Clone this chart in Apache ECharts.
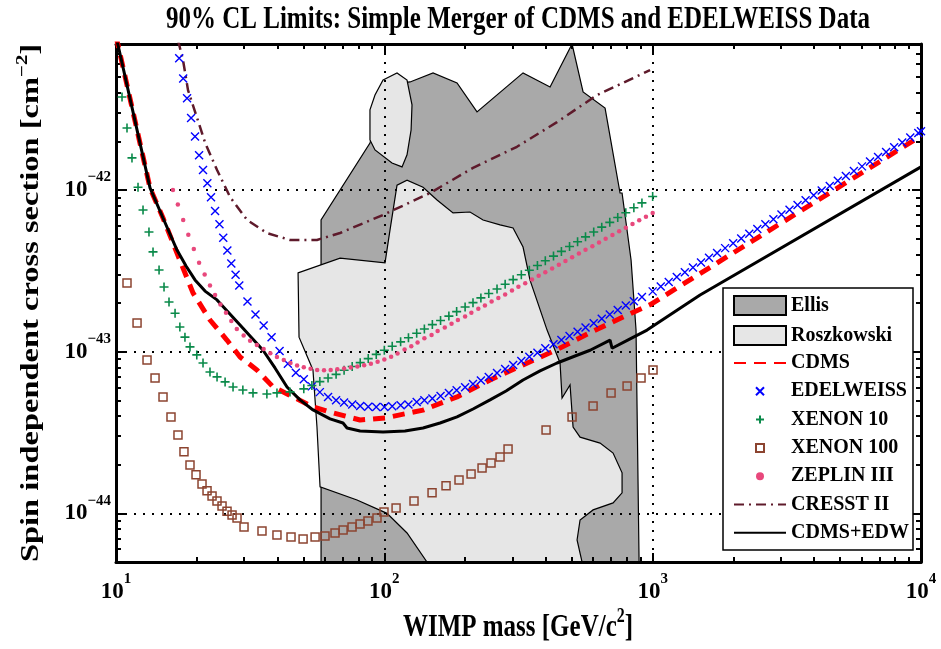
<!DOCTYPE html>
<html><head><meta charset="utf-8">
<script src="https://cdn.jsdelivr.net/npm/echarts@6/dist/echarts.min.js"></script>
<style>html,body{margin:0;padding:0;background:#fff;overflow:hidden}#c{width:941px;height:649px}</style>
</head><body><div id="c"></div><script>
// ---------- tick values ----------
const massTicks = [10, 100, 1000, 10000];
const massMinorTicks = [20,30,40,50,60,70,80,90,200,300,400,500,600,700,800,900,2000,3000,4000,5000,6000,7000,8000,9000];
const sigmaTicks = [1e-44, 1e-43, 1e-42];
const sigmaMinorTicks = [6e-45,7e-45,8e-45,9e-45,2e-44,3e-44,4e-44,5e-44,6e-44,7e-44,8e-44,9e-44,2e-43,3e-43,4e-43,5e-43,6e-43,7e-43,8e-43,9e-43,2e-42,3e-42,4e-42,5e-42,6e-42,7e-42];
const massRange = [10, 10000];
const sigmaRange = [5e-45, 8e-42];

// ---------- texts ----------
const titleText = '90% CL Limits: Simple Merger of CDMS and EDELWEISS Data';
const xNameText = ['WIMP mass [GeV/c', '2', ']'];
const yNameText = ['Spin independent cross section [cm', '\u22122', ']'];

// ---------- regions (mass GeV, sigma cm^2) ----------
const ellis = [[58.1,5e-45],[58.1,6.52e-43],[88.4,1.95e-42],[100.6,4.46e-42],[124.7,4.66e-42],[151.9,5.30e-42],[186.6,4.59e-42],[221.5,3.04e-42],[328.8,5.30e-42],[414.6,4.34e-42],[500.7,8e-42],[550.4,4.04e-42],[664.7,3.21e-42],[755.9,9.58e-43],[769.1,9.58e-43],[830.8,3.69e-43],[867,1.36e-43],[890,5e-45]];
const roszkowski = [[47.7,3.07e-43],[68.4,3.79e-43],[100.6,3.54e-43],[105.0,5.66e-43],[111.5,1.07e-42],[121.5,1.15e-42],[139.4,1.04e-42],[157.2,8.67e-43],[180.3,7.21e-43],[208.6,7.31e-43],[233.3,6.52e-43],[269.9,6.08e-43],[301.8,5.82e-43],[328.8,4.44e-43],[349.1,2.77e-43],[404.1,1.36e-43],[451.7,8.51e-44],[459.5,5.17e-44],[492.2,6.22e-44],[505.1,3.42e-44],[536.3,2.96e-44],[636.8,2.72e-44],[712.0,2.36e-44],[769.1,1.78e-44],[769.1,1.34e-44],[712.0,1.16e-44],[599.7,1.05e-44],[536.3,9.09e-45],[522.7,6.85e-45],[545.6,5e-45],[144.2,5e-45],[121.5,7.56e-45],[102.3,1.0e-44],[79.1,1.21e-44],[57.6,1.46e-44],[56.1,3.42e-44],[54.2,7.71e-44],[48.1,1.23e-43]];
const roszkowskiIsland = [[98.9,4.79e-42],[111.5,5.30e-42],[121.5,4.79e-42],[126.8,3.36e-42],[125.8,2.35e-42],[121.5,1.65e-42],[116.4,1.39e-42],[106.8,1.47e-42],[92.3,1.77e-42],[88.4,2.04e-42],[88.4,3.13e-42],[92.3,3.87e-42]];

// ---------- limit curves ----------
const cdms = [[10,8.96e-42],[13.39,1.03e-42],[14.97,6.71e-43],[16.88,4.07e-43],[19.36,2.31e-43],[22.4,1.57e-43],[25.9,1.18e-43],[29.0,9.27e-44],[33.5,7.71e-44],[38.5,6.05e-44],[45.7,5.25e-44],[54.2,4.55e-44],[64.4,4.18e-44],[81.2,3.78e-44],[100.6,3.89e-44],[139.4,4.35e-44],[186.6,5.25e-44],[247.7,6.68e-44],[328.8,8.28e-44],[440,1.03e-43],[584,1.31e-43],[775.6,1.64e-43],[977,1.95e-43],[10000,2.16e-42]];
const edelweiss = [[16.6,8.71e-42],[17.2,6.53e-42],[17.8,4.90e-42],[18.4,3.70e-42],[19.05,2.79e-42],[19.7,2.14e-42],[20.4,1.64e-42],[21.1,1.33e-42],[21.9,1.10e-42],[22.6,9.02e-43],[23.4,7.41e-43],[24.3,6.14e-43],[25.1,5.07e-43],[26.0,4.22e-43],[26.9,3.51e-43],[27.9,2.99e-43],[28.8,2.57e-43],[30.9,2.04e-43],[33.1,1.70e-43],[35.5,1.45e-43],[38.0,1.23e-43],[40.7,1.01e-43],[43.7,8.41e-44],[46.8,7.41e-44],[50.1,6.76e-44],[53.7,6.10e-44],[57.5,5.62e-44],[61.7,5.25e-44],[66.1,5.01e-44],[70.8,4.84e-44],[75.9,4.71e-44],[81.3,4.62e-44],[87.1,4.57e-44],[93.3,4.55e-44],[100,4.54e-44],[107,4.59e-44],[115,4.66e-44],[123,4.71e-44],[132,4.88e-44],[141,5.01e-44],[151,5.14e-44],[162,5.32e-44],[174,5.55e-44],[186,5.78e-44],[200,6.03e-44],[214,6.32e-44],[229,6.64e-44],[245,6.97e-44],[263,7.38e-44],[282,7.82e-44],[302,8.28e-44],[324,8.77e-44],[347,9.31e-44],[372,9.86e-44],[398,1.05e-43],[427,1.11e-43],[457,1.18e-43],[490,1.25e-43],[525,1.33e-43],[562,1.41e-43],[603,1.50e-43],[646,1.60e-43],[692,1.70e-43],[741,1.81e-43],[794,1.93e-43],[851,2.05e-43],[912,2.18e-43],[1000,2.36e-43],[1072,2.53e-43],[1148,2.70e-43],[1230,2.90e-43],[1318,3.10e-43],[1413,3.32e-43],[1514,3.56e-43],[1622,3.81e-43],[1738,4.08e-43],[1862,4.37e-43],[1995,4.68e-43],[2138,5.01e-43],[2291,5.36e-43],[2455,5.74e-43],[2630,6.15e-43],[2818,6.59e-43],[3020,7.05e-43],[3236,7.55e-43],[3467,8.09e-43],[3715,8.65e-43],[3981,9.27e-43],[4266,9.93e-43],[4571,1.06e-42],[4898,1.14e-42],[5248,1.22e-42],[5623,1.31e-42],[6026,1.40e-42],[6457,1.50e-42],[6918,1.60e-42],[7413,1.72e-42],[7943,1.84e-42],[8511,1.97e-42],[9120,2.11e-42],[9772,2.25e-42],[10000,2.31e-42]];
const xenon10 = [[9.74,6.19e-42],[10.53,3.76e-42],[10.99,2.42e-42],[11.47,1.58e-42],[12.08,1.04e-42],[12.61,7.52e-43],[13.27,5.50e-43],[13.74,4.14e-43],[14.47,3.20e-43],[15.1,2.51e-43],[15.76,2.03e-43],[16.6,1.73e-43],[17.3,1.42e-43],[18.07,1.23e-43],[18.87,1.07e-43],[20.0,9.55e-44],[21.1,8.51e-44],[22.4,7.48e-44],[23.8,6.98e-44],[25.5,6.50e-44],[27.3,6.05e-44],[29.7,5.79e-44],[32.4,5.56e-44],[36.5,5.47e-44],[39.8,5.56e-44],[44.5,5.64e-44],[50.1,5.89e-44],[53.7,6.17e-44],[57.5,6.53e-44],[61.7,6.87e-44],[66.1,7.24e-44],[70.8,7.67e-44],[75.9,8.09e-44],[81.3,8.55e-44],[87.1,9.06e-44],[93.3,9.62e-44],[100,1.02e-43],[107,1.08e-43],[115,1.15e-43],[123,1.22e-43],[132,1.30e-43],[141,1.38e-43],[151,1.47e-43],[162,1.56e-43],[174,1.66e-43],[186,1.77e-43],[200,1.89e-43],[214,2.01e-43],[229,2.15e-43],[245,2.29e-43],[263,2.44e-43],[282,2.61e-43],[302,2.79e-43],[324,2.99e-43],[347,3.19e-43],[372,3.41e-43],[398,3.65e-43],[427,3.90e-43],[457,4.17e-43],[490,4.47e-43],[525,4.79e-43],[562,5.13e-43],[603,5.50e-43],[646,5.89e-43],[692,6.31e-43],[741,6.76e-43],[794,7.24e-43],[851,7.76e-43],[912,8.32e-43],[1000,9.12e-43]];
const xenon100 = [[10.99,2.66e-43],[11.98,1.505e-43],[13.05,8.89e-44],[13.98,6.88e-44],[14.97,5.25e-44],[16.03,3.95e-44],[17.02,3.05e-44],[17.92,2.40e-44],[18.87,1.99e-44],[19.87,1.73e-44],[20.92,1.52e-44],[21.84,1.38e-44],[22.8,1.28e-44],[23.79,1.19e-44],[24.84,1.11e-44],[25.93,1.03e-44],[27.07,9.77e-45],[28.25,9.37e-45],[30.0,8.24e-45],[35.0,7.78e-45],[39.8,7.35e-45],[44.9,7.15e-45],[49.8,6.95e-45],[55.2,7.15e-45],[60.1,7.25e-45],[65.5,7.56e-45],[70.2,7.89e-45],[75.8,8.24e-45],[81.2,8.60e-45],[86.9,8.97e-45],[93.9,9.37e-45],[99.7,1.02e-44],[110.6,1.08e-44],[129.0,1.19e-44],[150.6,1.34e-44],[169.8,1.48e-44],[189.8,1.61e-44],[210.5,1.75e-44],[231.3,1.91e-44],[249.8,2.05e-44],[269.9,2.23e-44],[289.1,2.50e-44],[400.6,3.28e-44],[500.7,3.95e-44],[599.7,4.62e-44],[699.8,5.55e-44],[802.9,6.14e-44],[905.0,6.88e-44],[1003,7.70e-44]];
const zeplin3 = [[16.3,1.0e-42],[17.0,8.13e-43],[17.8,6.52e-43],[18.6,5.28e-43],[19.5,4.32e-43],[20.4,3.55e-43],[21.4,3.0e-43],[22.4,2.57e-43],[23.4,2.24e-43],[24.5,1.96e-43],[25.7,1.74e-43],[26.9,1.55e-43],[28.2,1.38e-43],[29.9,1.26e-43],[31.6,1.17e-43],[33.5,1.10e-43],[35.5,1.04e-43],[37.6,9.77e-44],[39.8,9.27e-44],[42.2,8.87e-44],[44.7,8.51e-44],[47.3,8.22e-44],[50.1,8.0e-44],[53.1,7.83e-44],[56.2,7.71e-44],[59.6,7.67e-44],[63.1,7.71e-44],[66.8,7.78e-44],[70.8,7.87e-44],[75.0,7.98e-44],[79.4,8.09e-44],[84.1,8.24e-44],[89.1,8.41e-44],[94.4,8.67e-44],[100,8.95e-44],[106,9.29e-44],[112,9.75e-44],[119,1.03e-43],[126,1.08e-43],[133,1.14e-43],[141,1.21e-43],[150,1.27e-43],[158,1.34e-43],[168,1.41e-43],[178,1.49e-43],[188,1.57e-43],[200,1.65e-43],[211,1.74e-43],[224,1.84e-43],[237,1.93e-43],[251,2.04e-43],[266,2.15e-43],[282,2.26e-43],[299,2.39e-43],[316,2.52e-43],[335,2.65e-43],[355,2.80e-43],[376,2.95e-43],[398,3.10e-43],[422,3.27e-43],[447,3.45e-43],[473,3.64e-43],[501,3.84e-43],[531,4.05e-43],[562,4.27e-43],[596,4.49e-43],[631,4.73e-43],[668,4.99e-43],[708,5.26e-43],[750,5.55e-43],[794,5.85e-43],[841,6.17e-43],[891,6.49e-43],[944,6.84e-43],[1000,7.21e-43]];
const cresst2 = [[17.02,8.46e-42],[17.77,6.37e-42],[18.55,4.15e-42],[20.0,2.83e-42],[21.5,1.95e-42],[23.8,1.33e-42],[26.6,9.06e-43],[30.8,6.52e-43],[36.5,5.42e-43],[44.5,4.91e-43],[56.1,4.91e-43],[68.4,5.42e-43],[98.9,7.01e-43],[148,9.58e-43],[214,1.37e-42],[312,1.85e-42],[440,2.63e-42],[621,3.87e-42],[978,5.52e-42]];
const cdmsEdw = [[10,8.96e-42],[13.39,1.03e-42],[14.97,6.71e-43],[16.88,4.25e-43],[18.24,3.39e-43],[19.70,2.78e-43],[21.47,2.37e-43],[23.79,2.09e-43],[28.99,1.46e-43],[35.31,1.02e-43],[39.13,7.93e-44],[43.38,6.05e-44],[48.51,5.03e-44],[54.24,4.36e-44],[62.77,3.84e-44],[70.15,3.62e-44],[72.6,3.37e-44],[81.2,3.23e-44],[98.9,3.19e-44],[119.4,3.23e-44],[139.4,3.37e-44],[161.3,3.62e-44],[186.6,3.95e-44],[214.1,4.42e-44],[247.7,5.03e-44],[284.2,5.71e-44],[328.8,6.68e-44],[380.4,7.60e-44],[440.3,8.51e-44],[513.7,9.40e-44],[584.6,1.02e-43],[693.7,1.18e-43],[705.8,1.05e-43],[824,1.20e-43],[953,1.36e-43],[1502,2.24e-43],[10000,1.39e-42]];

// The y axis works in units of 1e-45 cm^2 (ECharts rounds tiny tick values to 0);
// labels convert back to powers of ten in cm^2.
const SIGMA_UNIT = 1e-45;
const SIGMA_UNIT_EXP = -45;
function toUnit(v) { return v / SIGMA_UNIT; }
function pts(arr) { return arr.map(function (p) { return [p[0], toUnit(p[1])]; }); }

// ---------- styling ----------
const FF = '"Liberation Serif", "Times New Roman", serif';
const richLabel = {
  b: {fontFamily: FF, fontWeight: 'bold', fontSize: 23, lineHeight: 40, color: '#000'},
  s: {fontFamily: FF, fontWeight: 'bold', fontSize: 15, lineHeight: 16, verticalAlign: 'top', color: '#000'}
};
function expText(e) { return '{b|10}{s|' + (e < 0 ? '\u2212' + (-e) : e) + '}'; }
function xLabel(v) { return expText(Math.round(Math.log10(v))); }
function yLabel(v) { return expText(Math.round(Math.log10(v)) + SIGMA_UNIT_EXP); }
const AX = '#000';
const gridDot = {show: true, lineStyle: {color: '#000', width: 2, type: [2, 7]}};
function majorX(pos, show) {
  return {gridIndex: 0, type: 'log', logBase: 10, min: massRange[0], max: massRange[1], position: pos, z: 1.5,
    axisLine: {show: true, onZero: false, lineStyle: {color: AX, width: 3}},
    axisTick: {show: true, inside: true, length: 9, customValues: massTicks, lineStyle: {color: AX, width: 2}},
    axisLabel: show ? {show: true, customValues: massTicks, formatter: xLabel, rich: richLabel, margin: 10, color: '#000'} : {show: false},
    splitLine: show ? gridDot : {show: false}};
}
function majorY(pos, show) {
  const t = sigmaTicks.map(toUnit);
  return {gridIndex: 0, type: 'log', logBase: 10, min: toUnit(sigmaRange[0]), max: toUnit(sigmaRange[1]), position: pos, z: 1.5,
    axisLine: {show: true, onZero: false, lineStyle: {color: AX, width: 3}},
    axisTick: {show: true, inside: true, length: 9, customValues: t, lineStyle: {color: AX, width: 2}},
    axisLabel: show ? {show: true, customValues: t, formatter: yLabel, rich: richLabel, margin: 5, color: '#000'} : {show: false},
    splitLine: show ? gridDot : {show: false}};
}
function minorX(pos) {
  return {gridIndex: 1, type: 'log', logBase: 10, min: massRange[0], max: massRange[1], position: pos, z: 1.5,
    axisLine: {show: false}, axisLabel: {show: false}, splitLine: {show: false},
    axisTick: {show: true, inside: true, length: 5, customValues: massMinorTicks, lineStyle: {color: AX, width: 2}}};
}
function minorY(pos) {
  return {gridIndex: 1, type: 'log', logBase: 10, min: toUnit(sigmaRange[0]), max: toUnit(sigmaRange[1]), position: pos, z: 1.5,
    axisLine: {show: false}, axisLabel: {show: false}, splitLine: {show: false},
    axisTick: {show: true, inside: true, length: 5, customValues: sigmaMinorTicks.map(toUnit), lineStyle: {color: AX, width: 2}}};
}
function region(name, arr, fill) {
  const d = pts(arr);
  return {type: 'custom', name: name, data: d, z: 1, silent: true, clip: true,
    itemStyle: {color: fill},
    renderItem: function (params, api) {
      if (params.dataIndex !== 0) return null;
      return {type: 'polygon', shape: {points: d.map(function (p) { return api.coord(p); })},
        style: {fill: fill, stroke: '#000', lineWidth: 1.2}};
    }};
}
function markers(name, arr, symbol, size, fill, stroke, bw) {
  return {type: 'line', name: name, data: pts(arr), z: 2, silent: true, showSymbol: true, showAllSymbol: true,
    symbol: symbol, symbolSize: size,
    lineStyle: {color: 'rgba(0,0,0,0)', width: 0},
    itemStyle: {color: fill, borderColor: stroke, borderWidth: bw}};
}
function curve(name, arr, color, width, type) {
  return {type: 'line', name: name, data: pts(arr), z: 2, silent: true, symbol: 'none', showSymbol: false,
    itemStyle: {color: color}, lineStyle: {color: color, width: width, type: type}};
}

const legendText = {fontFamily: FF, fontWeight: 'bold', fontSize: 20, color: '#000'};
const hideSym = {opacity: 0};
const nameRich = {
  a: {fontFamily: FF, fontWeight: 'bold', fontSize: 25, lineHeight: 34, fill: '#000', color: '#000'},
  s: {fontFamily: FF, fontWeight: 'bold', fontSize: 16, lineHeight: 16, verticalAlign: 'top', fill: '#000', color: '#000'}
};

const option = {
  animation: false,
  backgroundColor: '#fff',
  textStyle: {fontFamily: FF},
  grid: [
    {left: 116, right: 20, top: 44, bottom: 87, containLabel: false, outerBoundsMode: 'none'},
    {left: 116, right: 20, top: 44, bottom: 87, containLabel: false, outerBoundsMode: 'none'}
  ],
  xAxis: [majorX('bottom', true), majorX('top', false), minorX('bottom'), minorX('top')],
  yAxis: [majorY('left', true), majorY('right', false), minorY('left'), minorY('right')],
  legend: [
    {orient: 'vertical', left: 733, top: 295, padding: 0, itemWidth: 52, itemHeight: 19, itemGap: 9,
      selectedMode: false, textStyle: legendText, icon: 'rect',
      itemStyle: {borderColor: '#000', borderWidth: 2},
      data: ['Ellis', 'Roszkowski']},
    {orient: 'vertical', left: 733, top: 353, padding: 0, itemWidth: 52, itemHeight: 10, itemGap: 8.3,
      selectedMode: false, textStyle: legendText,
      data: [
        {name: 'CDMS', itemStyle: hideSym},
        {name: 'EDELWEISS', lineStyle: {opacity: 0}},
        {name: 'XENON 10', lineStyle: {opacity: 0}},
        {name: 'XENON 100', lineStyle: {opacity: 0}},
        {name: 'ZEPLIN III', lineStyle: {opacity: 0}},
        {name: 'CRESST II', itemStyle: hideSym},
        {name: 'CDMS+EDW', itemStyle: hideSym}
      ]}
  ],
  graphic: [
    {type: 'rect', z: 3, silent: true, shape: {x: 723, y: 288, width: 190, height: 262},
      style: {fill: '#fff', stroke: '#000', lineWidth: 1.5}},
    {type: 'text', z: 10, x: 518, y: 20, scaleY: 1.3, silent: true,
      style: {text: titleText, font: 'bold 25px ' + FF, fill: '#000', align: 'center', verticalAlign: 'middle', textAlign: 'center', textVerticalAlign: 'middle'}},
    {type: 'text', z: 10, x: 518, y: 628, scaleY: 1.3, silent: true,
      style: {text: '{a|' + xNameText[0] + '}{s|' + xNameText[1] + '}{a|' + xNameText[2] + '}', rich: nameRich,
        align: 'center', verticalAlign: 'middle', textAlign: 'center', textVerticalAlign: 'middle'}},
    {type: 'text', z: 10, x: 32, y: 303, rotation: Math.PI / 2, scaleX: 1.3, silent: true,
      style: {text: '{a|' + yNameText[0] + '}{s|' + yNameText[1] + '}{a|' + yNameText[2] + '}', rich: nameRich,
        align: 'center', verticalAlign: 'middle', textAlign: 'center', textVerticalAlign: 'middle'}}
  ],
  series: [
    region('Ellis', ellis, '#a9a9a9'),
    region('Roszkowski', roszkowski, '#e6e6e6'),
    region('Roszkowski', roszkowskiIsland, '#e6e6e6'),
    curve('CDMS', cdms, '#ff0000', 5, [12, 8]),
    markers('EDELWEISS', edelweiss, 'path://M0,0L10,10M10,0L0,10', 8, 'rgba(0,0,0,0)', '#0000ff', 1.4),
    markers('XENON 10', xenon10, 'path://M5,0L5,10M0,5L10,5', 9, 'rgba(0,0,0,0)', '#0a8a4a', 1.6),
    markers('XENON 100', xenon100, 'rect', 8, 'rgba(0,0,0,0)', '#8c4430', 1.5),
    markers('ZEPLIN III', zeplin3, 'circle', 4.5, '#e8487c', '#e8487c', 0),
    curve('CRESST II', cresst2, '#5e1a2b', 2.5, [10, 5, 2, 5]),
    curve('CDMS+EDW', cdmsEdw, '#000000', 3, 'solid')
  ]
};
const chart = echarts.init(document.getElementById('c'), null, {renderer: 'canvas'});
chart.setOption(option);
</script></body></html>
